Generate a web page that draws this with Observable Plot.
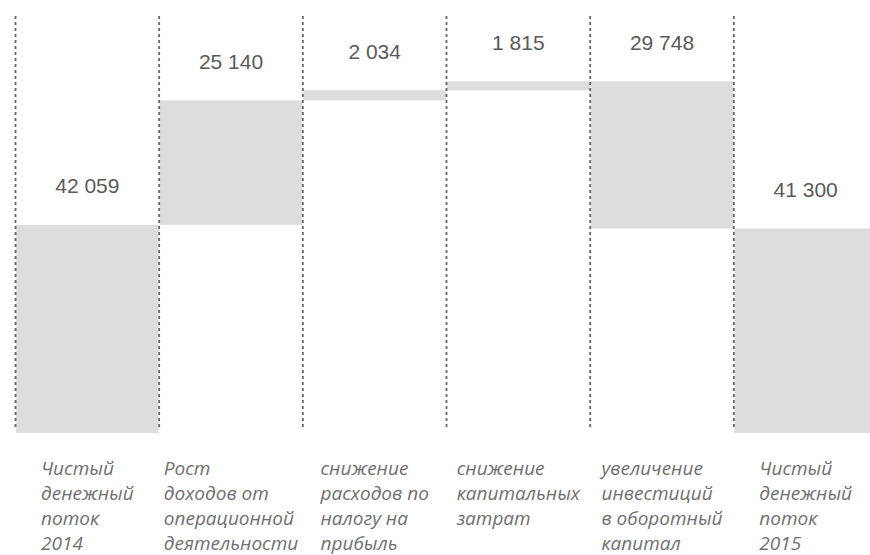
<!DOCTYPE html>
<html><head><meta charset="utf-8">
<script src="https://cdn.jsdelivr.net/npm/d3@7"></script>
<script src="https://cdn.jsdelivr.net/npm/@observablehq/plot@0.6"></script>
<style>
body{margin:0;background:#fff;overflow:hidden}
#chart{width:870px;height:555px;overflow:hidden}
</style>
</head><body><div id="chart"></div>
<script>
const categories = [
  "Чистый\nденежный\nпоток\n2014",
  "Рост\nдоходов от\nоперационной\nдеятельности",
  "снижение\nрасходов по\nналогу на\nприбыль",
  "снижение\nкапитальных\nзатрат",
  "увеличение\nинвестиций\nв оборотный\nкапитал",
  "Чистый\nденежный\nпоток\n2015"
];
const values = [42059, 25140, 2034, 1815, -29748, 41300];
const kinds = ["total", "delta", "delta", "delta", "delta", "total"];
const valueLabels = ["42 059", "25 140", "2 034", "1 815", "29 748", "41 300"];

let cum = 0;
const rows = categories.map((c, i) => {
  let y1, y2;
  if (kinds[i] === "total") { y1 = 0; y2 = values[i]; cum = values[i]; }
  else { y1 = cum; y2 = cum + values[i]; cum = y2; }
  return {i, cat: c, y1, y2, top: Math.max(y1, y2), label: valueLabels[i]};
});

const catFont = {size: 19, family: "Open Sans", weight: 400};
const ctx = document.createElement("canvas").getContext("2d");
ctx.font = `italic ${catFont.weight} ${catFont.size}px "${catFont.family}"`;
const blockWidth = c => Math.max(...c.split("\n").map(s => ctx.measureText(s).width));

const catMarks = rows.map(r => Plot.text([r], {
  x: d => d.i + 0.5, frameAnchor: "bottom", text: "cat",
  textAnchor: "start", lineAnchor: "top", dx: -blockWidth(r.cat) / 2, dy: 24,
  fontSize: catFont.size, fontStyle: "italic", fontWeight: catFont.weight,
  fontFamily: catFont.family, fill: "#707070", lineHeight: 1.316
}));

const chart = Plot.plot({
  width: 870, height: 555,
  marginTop: 37, marginBottom: 122, marginLeft: 15, marginRight: 0,
  x: {type: "linear", domain: [0, 6], range: [15, 877], axis: null},
  y: {domain: [0, 80000], axis: null},
  marks: [
    Plot.rectY(rows, {x1: "i", x2: d => d.i + 1, y1: "y1", y2: "y2", fill: "#dddddd", insetLeft: 1}),
    Plot.ruleX(rows, {x: "i", stroke: "#666", strokeWidth: 1.8, strokeDasharray: "3,3", insetTop: -21, insetBottom: 5}),
    Plot.text(rows, {x: d => d.i + 0.5, y: "top", text: "label", dy: -39, fontSize: 21,
      fill: "#5a5a5a", fontFamily: "Liberation Sans"}),
    ...catMarks
  ]
});
document.getElementById("chart").appendChild(chart);
</script>
</body></html>
